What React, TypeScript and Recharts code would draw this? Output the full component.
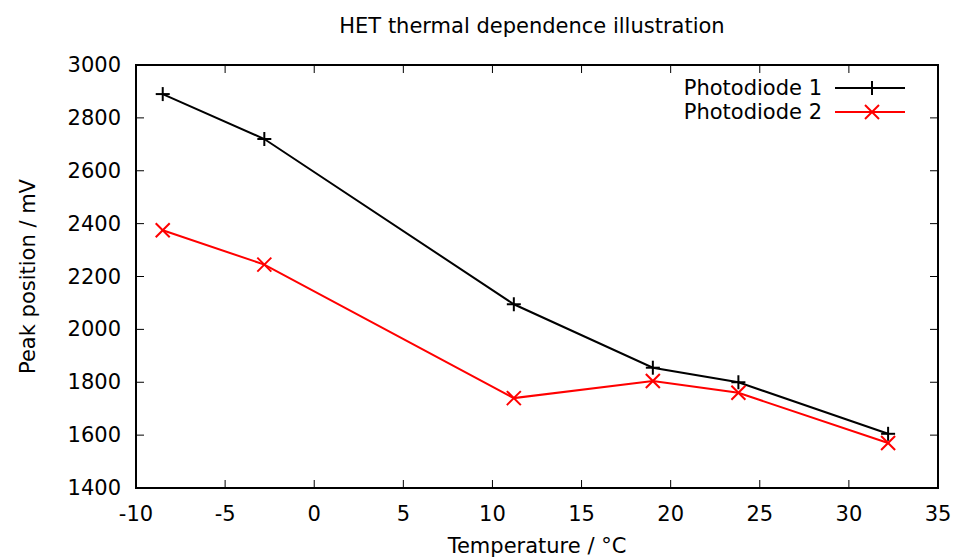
import React from 'react';
import { LineChart, Line, XAxis, YAxis, ReferenceArea } from 'recharts';

// values
const temperature = [-8.5, -2.8, 11.2, 19.0, 23.8, 32.2];
const photodiode1 = [2890, 2720, 2095, 1855, 1800, 1605];
const photodiode2 = [2375, 2245, 1740, 1805, 1760, 1570];
const xTicks = [-10, -5, 0, 5, 10, 15, 20, 25, 30, 35];
const yTicks = [1400, 1600, 1800, 2000, 2200, 2400, 2600, 2800, 3000];

const data = temperature.map((t, i) => ({ t, p1: photodiode1[i], p2: photodiode2[i] }));

const FONT = '"DejaVu Sans", sans-serif';
const FS = 21;
const W = 967;
const H = 560;
const M = { top: 65, right: 29, bottom: 22, left: 56 };
const Y_AXIS_W = 80;
const X_AXIS_H = 50;
const PLOT_TOP = M.top;
const PLOT_BOTTOM = H - M.bottom - X_AXIS_H;
const PLOT_LEFT = M.left + Y_AXIS_W;
const PLOT_RIGHT = W - M.right;
const TICK = 8;

const XTick = (props: any) => {
  const { x, payload } = props;
  return (
    <g>
      <line x1={x} x2={x} y1={PLOT_BOTTOM} y2={PLOT_BOTTOM - TICK} stroke="#000" />
      <line x1={x} x2={x} y1={PLOT_TOP} y2={PLOT_TOP + TICK} stroke="#000" />
      <text x={x} y={PLOT_BOTTOM + 26} textAnchor="middle" dominantBaseline="central"
        fontSize={FS} fontFamily={FONT} fill="#000">{payload.value}</text>
    </g>
  );
};

const YTick = (props: any) => {
  const { y, payload } = props;
  return (
    <g>
      <line x1={PLOT_LEFT} x2={PLOT_LEFT + TICK} y1={y} y2={y} stroke="#000" />
      <line x1={PLOT_RIGHT} x2={PLOT_RIGHT - TICK} y1={y} y2={y} stroke="#000" />
      <text x={PLOT_LEFT - 15} y={y} textAnchor="end" dominantBaseline="central"
        fontSize={FS} fontFamily={FONT} fill="#000">{payload.value}</text>
    </g>
  );
};

const PlusDot = (props: any) => {
  const { cx, cy } = props;
  if (cx == null || cy == null) return null;
  const s = 7;
  return (
    <g stroke="#000" strokeWidth={2}>
      <line x1={cx - s} x2={cx + s} y1={cy} y2={cy} />
      <line x1={cx} x2={cx} y1={cy - s} y2={cy + s} />
    </g>
  );
};

const CrossDot = (props: any) => {
  const { cx, cy } = props;
  if (cx == null || cy == null) return null;
  const s = 7;
  return (
    <g stroke="#ff0000" strokeWidth={2}>
      <line x1={cx - s} x2={cx + s} y1={cy - s} y2={cy + s} />
      <line x1={cx - s} x2={cx + s} y1={cy + s} y2={cy - s} />
    </g>
  );
};

const KeyBox = () => {
  const rows = [
    { name: 'Photodiode 1', color: '#000', Dot: PlusDot },
    { name: 'Photodiode 2', color: '#ff0000', Dot: CrossDot },
  ];
  return (
    <svg width={240} height={60} style={{ display: 'block' }}>
      {rows.map((r, i) => {
        const y = 17 + i * 24;
        return (
          <g key={r.name}>
            <text x={150} y={y} textAnchor="end" dominantBaseline="central"
              fontSize={FS} fontFamily={FONT} fill="#000">{r.name}</text>
            <line x1={163} x2={233} y1={y} y2={y} stroke={r.color} strokeWidth={2} />
            <r.Dot cx={200} cy={y} />
          </g>
        );
      })}
    </svg>
  );
};

export default function App() {
  return (
    <div style={{ position: 'absolute', left: 0, top: 0, width: W, height: H, background: '#fff' }}>
      <LineChart width={W} height={H} data={data} margin={M}>
        <XAxis type="number" dataKey="t" domain={[-10, 35]} ticks={xTicks} interval={0}
          allowDataOverflow tickLine={false} axisLine={false} height={X_AXIS_H} tick={<XTick />}
          label={(p: any) => (
            <text x={p.viewBox.x + p.viewBox.width / 2} y={p.viewBox.y + 58} textAnchor="middle"
              dominantBaseline="central" fontSize={FS} fontFamily={FONT} fill="#000">
              Temperature / °C
            </text>
          )} />
        <YAxis type="number" domain={[1400, 3000]} ticks={yTicks} interval={0}
          allowDataOverflow tickLine={false} axisLine={false} width={Y_AXIS_W} tick={<YTick />}
          label={(p: any) => {
            const cx = 28;
            const cy = p.viewBox.y + p.viewBox.height / 2;
            return (
              <text x={cx} y={cy} transform={`rotate(-90 ${cx} ${cy})`} textAnchor="middle"
                dominantBaseline="central" fontSize={FS} fontFamily={FONT} fill="#000">
                Peak position / mV
              </text>
            );
          }} />
        <ReferenceArea x1={-10} x2={35} y1={1400} y2={3000} fill="none" stroke="#000" strokeWidth={2} />
        <Line type="linear" dataKey="p1" name="Photodiode 1" stroke="#000" strokeWidth={2}
          dot={<PlusDot />} activeDot={false} isAnimationActive={false} />
        <Line type="linear" dataKey="p2" name="Photodiode 2" stroke="#ff0000" strokeWidth={2}
          dot={<CrossDot />} activeDot={false} isAnimationActive={false} />
      </LineChart>
      <div style={{ position: 'absolute', left: 0, top: 14, width: 1064, textAlign: 'center',
        fontFamily: FONT, fontSize: FS, color: '#000' }}>
        HET thermal dependence illustration
      </div>
      <div style={{ position: 'absolute', left: 672, top: 71, width: 240 }}>
        <KeyBox />
      </div>
    </div>
  );
}
